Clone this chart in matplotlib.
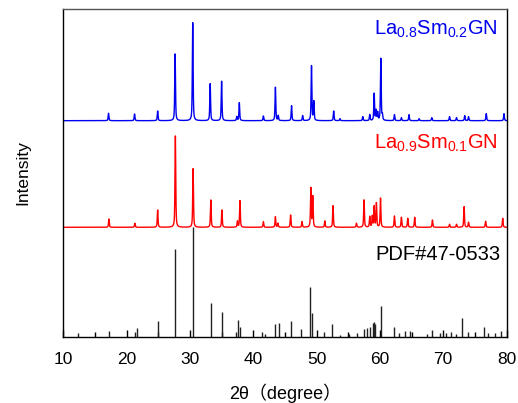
import numpy as np
import matplotlib
matplotlib.use("Agg")
import matplotlib.pyplot as plt
from matplotlib.ticker import MultipleLocator

plt.rcParams['font.family'] = ['Liberation Sans', 'Noto Sans CJK SC', 'DejaVu Sans']
plt.rcParams['mathtext.fontset'] = 'custom'
plt.rcParams['mathtext.rm'] = 'Liberation Sans'
plt.rcParams['mathtext.it'] = 'Liberation Sans:italic'

# ---- data (2theta positions and relative intensities) ----
blue_pos = [17.14, 21.25, 24.9, 27.66, 30.44, 33.2, 35.0, 37.4, 37.8, 41.6, 43.5, 43.95,
            46.05, 47.8, 49.2, 49.56, 52.7, 53.7, 57.3, 58.4, 59.1, 59.4, 59.65, 60.15,
            60.4, 62.3, 63.4, 64.6, 66.2, 68.2, 71.0, 72.1, 73.4, 74.0, 76.8, 79.6]
blue_int = [7.4, 6.7, 9.7, 66.7, 98, 37, 39.4, 4, 18, 4.7, 33.4, 5,
            15, 5, 54.7, 19, 9.7, 2, 4, 6, 27, 10, 8, 62,
            5, 6, 3, 6, 2, 3, 4, 3, 5, 4, 7, 7]

red_pos = [17.2, 21.3, 24.9, 27.7, 30.5, 33.3, 35.05, 37.5, 37.9, 41.6, 43.5, 43.9,
           45.9, 47.7, 49.1, 49.4, 51.3, 52.6, 56.3, 57.5, 58.4, 58.8, 59.1, 59.45,
           60.1, 62.3, 63.4, 64.4, 65.5, 68.3, 71.0, 72.1, 73.3, 74.0, 76.7, 79.4]
red_int = [8.3, 4, 17.3, 91.3, 58.6, 27.3, 17.3, 6, 26.6, 5.6, 10.6, 4,
           12.3, 5.6, 39, 30.6, 6.3, 21.6, 4, 27.3, 10.6, 11, 20.6, 24,
           29, 11.3, 10, 9, 10, 7.3, 3, 3, 20.6, 5, 6, 9]

pdf_pos = [12.4, 17.2, 21.3, 21.6, 24.9, 27.7, 30.45, 33.25, 35.05, 37.2, 37.6, 37.85,
           41.45, 41.8, 43.4, 44.0, 45.9, 47.5, 48.9, 49.3, 51.25, 52.5, 53.7, 55.2,
           56.4, 57.5, 57.9, 58.4, 58.85, 59.05, 59.3, 60.1, 62.2, 63.1, 63.9, 64.7,
           67.4, 68.2, 69.5, 70.45, 71.3, 72.1, 73.05, 73.9, 76.4, 77.1, 78.2, 79.2]
pdf_int = [3.3, 5.7, 4.4, 8.4, 15.7, 87.4, 109.4, 34, 25, 4.4, 16.7, 10,
           4.4, 3, 12.7, 13.4, 16, 7.7, 50, 24, 4.4, 12.4, 2, 2.4,
           3.3, 7.7, 8.4, 9.4, 14, 15, 12.7, 30.7, 10, 3.3, 5.7, 5.7,
           2.4, 6.7, 3.3, 3.3, 4.4, 2.4, 18.4, 4.4, 10, 3.3, 3.3, 5.7]

labels = [r'La$_{\mathrm{0.8}}$Sm$_{\mathrm{0.2}}$GN',
          r'La$_{\mathrm{0.9}}$Sm$_{\mathrm{0.1}}$GN',
          'PDF#47-0533']
colors = ['#0000ee', '#ff0000', '#222222']
offsets = [216.0, 109.4, 0.0]


def profile(x, pos, inten, fwhm=0.14):
    y = np.zeros_like(x)
    g = fwhm / 2.0
    for p, h in zip(pos, inten):
        y += h * (0.6 * g**2 / ((x - p)**2 + g**2) +
                  0.4 * np.exp(-4 * np.log(2) * (x - p)**2 / fwhm**2))
    return y


fig = plt.figure(figsize=(5.18, 4.03), dpi=100)
ax = fig.add_axes([0.1222, 0.1645, 0.8556, 0.8125])

x = np.linspace(10, 80, 7001)
ax.plot(x, profile(x, blue_pos, blue_int) + offsets[0], color=colors[0], lw=1.0)
ax.plot(x, profile(x, red_pos, red_int) + offsets[1], color=colors[1], lw=1.0)
ax.vlines(pdf_pos, offsets[2], np.array(pdf_int) + offsets[2], color=colors[2], lw=1.0)

ax.text(78.6, 301.7, labels[0], color=colors[0], fontsize=14.5, ha='right', va='baseline')
ax.text(78.6, 188.4, labels[1], color=colors[1], fontsize=14.5, ha='right', va='baseline')
ax.text(79.1, 76.7, labels[2], color='black', fontsize=14.5, ha='right', va='baseline')

ax.set_xlim(10, 80)
ax.set_ylim(0, 327.4)
ax.xaxis.set_major_locator(MultipleLocator(10))
ax.xaxis.set_minor_locator(MultipleLocator(5))
ax.tick_params(axis='x', which='major', direction='in', length=5, width=1, labelsize=12.5, pad=11)
ax.tick_params(axis='x', which='minor', direction='in', length=3.5, width=1)
ax.tick_params(axis='x', top=False)
ax.set_yticks([])
for s in ax.spines.values():
    s.set_linewidth(1.0)
ax.spines['top'].set_color('#555555')

ax.set_xlabel('2θ（degree）', fontsize=13, labelpad=12)
ax.set_ylabel('Intensity', fontsize=12.5, labelpad=24)

fig.savefig('out.png', dpi=100)
